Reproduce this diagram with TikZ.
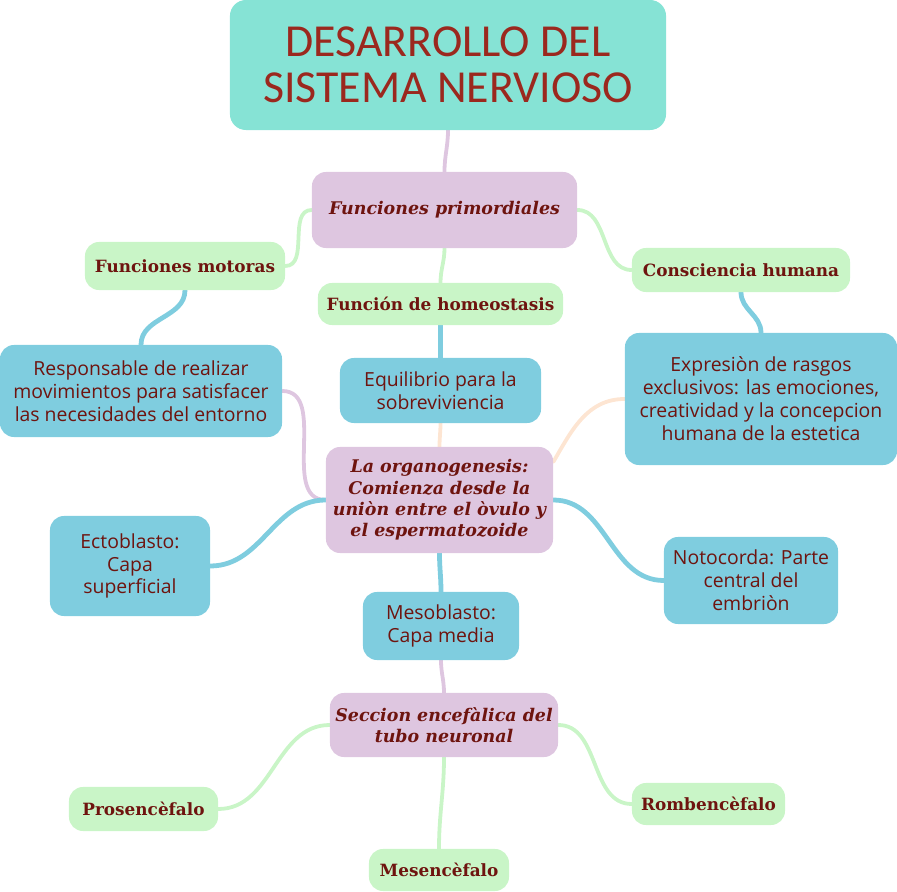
\documentclass[tikz,border=0pt]{standalone}
\usepackage{fontspec}
\setmainfont{Open Sans}
\newfontfamily\titlefont{Carlito}
\newfontfamily\slabfont{DejaVu Serif}
\usetikzlibrary{backgrounds}

\definecolor{titleteal}{RGB}{134,227,213}
\definecolor{nodelilac}{RGB}{222,198,224}
\definecolor{nodegreen}{RGB}{201,245,199}
\definecolor{nodeblue}{RGB}{127,205,223}
\definecolor{linkpeach}{RGB}{253,229,210}
\definecolor{titlered}{RGB}{155,40,30}
\definecolor{textred}{RGB}{110,20,15}

\begin{document}
\begin{tikzpicture}[
  x=0.025cm, y=-0.025cm,
  box/.style={rounded corners=0.35cm, inner sep=0pt, align=center, text=textred},
  titlebox/.style={box, rounded corners=0.4cm, fill=titleteal, text=titlered,
    font=\titlefont\fontsize{32.6}{32.6}\selectfont},
  lilacbox/.style={box, fill=nodelilac, font=\slabfont\bfseries\itshape\fontsize{12.4}{15.1}\selectfont},
  greenbox/.style={box, fill=nodegreen, font=\slabfont\bfseries\fontsize{12}{15}\selectfont},
  bluebox/.style={box, fill=nodeblue, font=\fontsize{13.8}{16.3}\selectfont},
  link/.style={line width=#1, line cap=round},
  link/.default=2.7pt,
]
\useasboundingbox (0,0) rectangle (897,892);

% nodes
\node[titlebox, minimum width=10.9cm, minimum height=3.25cm] (title) at (448,65)
  {DESARROLLO DEL\\SISTEMA NERVIOSO};
\node[lilacbox, minimum width=6.625cm, minimum height=1.9cm] (prim) at (444.5,210)
  {Funciones primordiales};
\node[greenbox, minimum width=5cm, minimum height=1.2cm] (motoras) at (185,266)
  {Funciones motoras};
\node[greenbox, minimum width=5.45cm, minimum height=1.1cm] (conciencia) at (741,270)
  {Consciencia humana};
\node[greenbox, minimum width=6.125cm, minimum height=1.05cm] (homeo) at (440.5,304)
  {Función de homeostasis};
\node[bluebox, minimum width=7.05cm, minimum height=2.3cm] (resp) at (141,391)
  {Responsable de realizar\\movimientos para satisfacer\\las necesidades del entorno};
\node[bluebox, minimum width=5.025cm, minimum height=1.625cm] (equil) at (440.5,390.5)
  {Equilibrio para la\\sobreviviencia};
\node[bluebox, minimum width=6.8cm, minimum height=3.3cm] (expr) at (761,399)
  {Expresiòn de rasgos\\exclusivos: las emociones,\\creatividad y la concepcion\\humana de la estetica};
\node[lilacbox, minimum width=5.675cm, minimum height=2.65cm] (organo) at (439.5,500)
  {La organogenesis:\\Comienza desde la\\uniòn entre el òvulo y\\el espermatozoide};
\node[bluebox, minimum width=4cm, minimum height=2.5cm] (ecto) at (130,566)
  {Ectoblasto:\\Capa\\superficial};
\node[bluebox, minimum width=4.35cm, minimum height=2.175cm] (noto) at (751,580.5)
  {Notocorda: Parte\\central del\\embriòn};
\node[bluebox, minimum width=3.9cm, minimum height=1.7cm] (meso) at (441,626)
  {Mesoblasto:\\Capa media};
\node[lilacbox, minimum width=5.7cm, minimum height=1.6cm] (seccion) at (444,725)
  {Seccion encefàlica del\\tubo neuronal};
\node[greenbox, minimum width=3.725cm, minimum height=1.1cm] (prosen) at (143.5,809)
  {Prosencèfalo};
\node[greenbox, minimum width=3.5cm, minimum height=1.05cm] (mesen) at (439,870)
  {Mesencèfalo};
\node[greenbox, minimum width=3.825cm, minimum height=1.05cm] (romben) at (708.5,804)
  {Rombencèfalo};

% connectors
\begin{scope}[on background layer]
\draw[link, nodelilac] (title.south) to[out=-90, in=90] (prim.north);
\draw[link, nodegreen] (prim.west) to[out=180, in=0] (motoras.east);
\draw[link, nodegreen] (prim.east) to[out=0, in=180] (conciencia.west);
\draw[link, nodegreen] (prim.south) to[out=-90, in=90] (homeo.north);
\draw[link=3.4pt, nodeblue] (motoras.south) to[out=-90, in=90] (resp.north);
\draw[link=3.4pt, nodeblue] (conciencia.south) to[out=-90, in=90] (expr.north);
\draw[link=3.4pt, nodeblue] (homeo.south) to[out=-90, in=90] (equil.north);
\draw[link, linkpeach] (equil.south) to[out=-90, in=90] (organo.north);
\draw[link, nodelilac] (resp.east) to[out=0, in=180] (organo.west);
\draw[link, linkpeach] (expr.west) to[out=180, in=60] ([yshift=0.95cm]organo.east);
\draw[link=3.4pt, nodeblue] (organo.west) to[out=180, in=0] (ecto.east);
\draw[link=3.4pt, nodeblue] (organo.east) to[out=0, in=180] (noto.west);
\draw[link=3.4pt, nodeblue] (organo.south) to[out=-90, in=90] (meso.north);
\draw[link, nodelilac] (meso.south) to[out=-90, in=90] (seccion.north);
\draw[link, nodegreen] (seccion.west) to[out=180, in=0] (prosen.east);
\draw[link, nodegreen] (seccion.south) to[out=-90, in=90] (mesen.north);
\draw[link, nodegreen] (seccion.east) to[out=0, in=180] (romben.west);
\end{scope}
\end{tikzpicture}
\end{document}
